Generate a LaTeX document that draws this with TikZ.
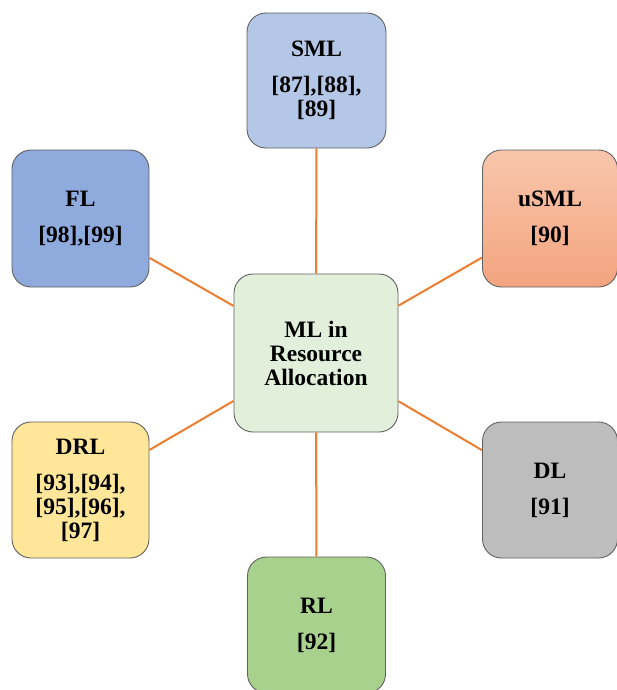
\documentclass[tikz,border=0pt]{standalone}
\usepackage{fontspec}
\setmainfont{Liberation Serif}
\begin{document}
\begin{tikzpicture}[x=1pt,y=-1pt,
  topic/.style={draw=black!62, line width=0.9pt, rounded corners=19pt,
    inner sep=0pt, align=center, font=\bfseries\fontsize{23.5}{24}\selectfont},
]
\useasboundingbox (0,0) rectangle (617,690);
\definecolor{smlblue}{HTML}{B4C7E7}
\definecolor{flblue}{HTML}{8FAADC}
\definecolor{centergreen}{HTML}{E2EFDA}
\definecolor{drlyellow}{HTML}{FFE699}
\definecolor{dlgray}{HTML}{BDBDBD}
\definecolor{rlgreen}{HTML}{A9D18E}
\definecolor{usmltop}{HTML}{F8C6AC}
\definecolor{usmlbot}{HTML}{F4A47F}
\definecolor{linkorange}{HTML}{ED7D31}

\node[topic, fill=centergreen, minimum width=164pt, minimum height=158pt]
  (c) at (316,353) {ML in\\Resource\\Allocation};
\node[topic, fill=smlblue, minimum width=139pt, minimum height=135pt]
  (sml) at (316.5,80.5) {SML\\[12pt]{[87],[88],}\\{[89]}};
\node[topic, top color=usmltop, bottom color=usmlbot, minimum width=135pt, minimum height=137pt]
  (usml) at (550,218.5) {uSML\\[12pt]{[90]}};
\node[topic, fill=flblue, minimum width=137pt, minimum height=137pt]
  (fl) at (80.5,218.5) {FL\\[12pt]{[98],[99]}};
\node[topic, fill=drlyellow, minimum width=137pt, minimum height=136pt]
  (drl) at (80.5,490) {DRL\\[12pt]{[93],[94],}\\{[95],[96],}\\{[97]}};
\node[topic, fill=dlgray, minimum width=135pt, minimum height=136pt]
  (dl) at (550,490) {DL\\[12pt]{[91]}};
\node[topic, fill=rlgreen, minimum width=138pt, minimum height=136pt]
  (rl) at (316.5,625) {RL\\[12pt]{[92]}};

\foreach \n in {sml,usml,fl,drl,dl,rl}
  \draw[line width=2pt, draw=linkorange] (c) -- (\n);
\end{tikzpicture}
\end{document}
